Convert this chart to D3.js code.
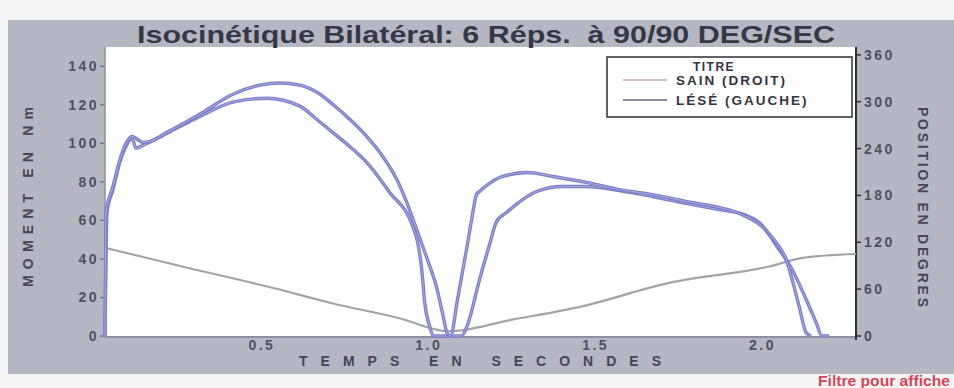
<!DOCTYPE html>
<html>
<head>
<meta charset="utf-8">
<script src="https://cdn.jsdelivr.net/npm/d3@7"></script>
<style>
  html, body { margin: 0; padding: 0; background: #fff; }
  svg { display: block; font-family: "Liberation Sans", Arial, sans-serif; }
</style>
</head>
<body>
<div id="chart"></div>
<script>
// torque curves (Nm) against time (s)
const timeSain = [0.030, 0.036, 0.054, 0.075, 0.096, 0.111, 0.123, 0.150, 0.216, 0.314, 0.413, 0.515, 0.614, 0.664, 0.712, 0.763, 0.814, 0.883, 0.952, 0.967, 0.979, 0.988, 1.003, 1.014,
  1.098, 1.116, 1.152, 1.182, 1.203, 1.233, 1.281, 1.323, 1.400, 1.472, 1.571, 1.670, 1.771, 1.870, 1.945, 1.990, 2.050, 2.089, 2.131, 2.161, 2.178, 2.200];
const torqueSain = [0, 64, 76, 90.6, 99.5, 102.6, 97.5, 99.5, 105.2, 114, 121.4, 123.4, 119.3, 112.5, 105.7, 98.4, 90.1, 74.5, 56.8, 48.4, 34.4, 17.2, 4.7, 0,
  0, 5.7, 29.2, 47.4, 59.4, 64.1, 70.8, 75, 77.6, 77.6, 75.5, 72.4, 68.8, 65.6, 63, 58.9, 44.8, 34.4, 18.8, 6.8, 0, 0];

const timeLese = [0.030, 0.033, 0.054, 0.075, 0.096, 0.111, 0.144, 0.165, 0.216, 0.314, 0.413, 0.494, 0.554, 0.614, 0.664, 0.712, 0.763, 0.814, 0.862, 0.904, 0.934, 0.964, 0.993, 1.023, 1.041, 1.056,
  1.065, 1.086, 1.113, 1.131, 1.143, 1.152, 1.182, 1.221, 1.296, 1.371, 1.472, 1.571, 1.670, 1.771, 1.870, 1.939, 1.999, 2.041, 2.071, 2.089, 2.110, 2.131, 2.146];
const torqueLese = [0, 64, 77.6, 91.7, 101, 103.6, 100.5, 101, 105.7, 115.1, 125.5, 130.2, 131.3, 130.2, 126.6, 120.3, 112.5, 103.6, 93.2, 81.3, 69.3, 55.2, 41.1, 25.5, 12, 1,
  0, 18.8, 44.8, 63, 73.4, 75, 79.2, 82.8, 84.9, 82.8, 79.7, 76, 73.4, 69.8, 66.7, 63, 56.8, 48.4, 39.6, 29.2, 15.1, 1.6, 0];

// joint position (degrees)
const positionTime = [0.03, 0.28, 0.52, 0.71, 0.91, 1.06, 1.25, 1.45, 1.72, 2.02, 2.12, 2.28];
const positionDeg = [113, 87, 63, 42, 23, 6, 21, 37, 68, 89, 100, 105];

const xTicks = [0.5, 1.0, 1.5, 2.0];
const xTickLabels = ['0.5', '1.0', '1.5', '2.0'];
const leftTicks = [0, 20, 40, 60, 80, 100, 120, 140];
const rightTicks = [0, 60, 120, 180, 240, 300, 360];
const legendLabels = ['SAIN (DROIT)', 'LÉSÉ (GAUCHE)'];

const width = 954;
const height = 388;
const plot = { left: 105, right: 856, top: 47, bottom: 337 };

const svg = d3.select('#chart').append('svg')
  .attr('width', width)
  .attr('height', height);

// scanned page background
svg.append('rect').attr('width', width).attr('height', height).attr('fill', '#f4f4f6');
svg.append('rect')
  .attr('x', 8).attr('y', 20).attr('width', width - 8).attr('height', 354)
  .attr('fill', '#b5b8c3');

const x = d3.scaleLinear().domain([0.03, 2.28]).range([plot.left, plot.right]);
const yLeft = d3.scaleLinear().domain([0, 150]).range([plot.bottom - 1, plot.top]);
const yRight = d3.scaleLinear().domain([0, 370]).range([plot.bottom - 1, plot.top]);

svg.append('rect')
  .attr('x', plot.left).attr('y', plot.top)
  .attr('width', plot.right - plot.left).attr('height', plot.bottom - plot.top)
  .attr('fill', '#ffffff');

// title
svg.append('text')
  .attr('x', 486).attr('y', 43)
  .attr('text-anchor', 'middle')
  .attr('textLength', 698).attr('lengthAdjust', 'spacingAndGlyphs')
  .style('font-size', '24px').style('font-weight', 'bold')
  .style('white-space', 'pre')
  .attr('fill', '#363945')
  .text('Isocinétique Bilatéral: 6 Réps.  à 90/90 DEG/SEC');

const tickFont = g => g.style('font-size', '14px').style('font-weight', 'bold')
  .style('letter-spacing', '2.5px').attr('fill', '#4e515d');

// left axis
const gl = svg.append('g');
gl.selectAll('line').data(leftTicks).join('line')
  .attr('x1', plot.left - 5).attr('x2', plot.left)
  .attr('y1', d => yLeft(d)).attr('y2', d => yLeft(d))
  .attr('stroke', '#6a6d78').attr('stroke-width', 1.2);
gl.selectAll('text').data(leftTicks).join('text')
  .attr('x', plot.left - 6).attr('y', d => yLeft(d) + 5)
  .attr('text-anchor', 'end')
  .call(tickFont)
  .text(d => d);

// right axis
const gr = svg.append('g');
gr.selectAll('line').data(rightTicks).join('line')
  .attr('x1', plot.right).attr('x2', plot.right + 5)
  .attr('y1', d => yRight(d)).attr('y2', d => yRight(d))
  .attr('stroke', '#2c2d35').attr('stroke-width', 1.5);
gr.selectAll('text').data(rightTicks).join('text')
  .attr('x', plot.right + 8).attr('y', d => yRight(d) + 5)
  .call(tickFont)
  .text(d => d);

// bottom axis labels
svg.append('g').selectAll('text').data(xTicks).join('text')
  .attr('x', d => x(d)).attr('y', 350)
  .attr('text-anchor', 'middle')
  .call(tickFont)
  .text((d, i) => xTickLabels[i]);

// frame lines
svg.append('line')
  .attr('x1', plot.left).attr('x2', plot.left).attr('y1', plot.top).attr('y2', plot.bottom)
  .attr('stroke', '#8d909a').attr('stroke-width', 1.5);
svg.append('line')
  .attr('x1', plot.left).attr('x2', plot.right).attr('y1', plot.bottom).attr('y2', plot.bottom)
  .attr('stroke', '#8d909a').attr('stroke-width', 2);
svg.append('line')
  .attr('x1', plot.right).attr('x2', plot.right).attr('y1', plot.top).attr('y2', plot.bottom + 3)
  .attr('stroke', '#2c2d35').attr('stroke-width', 2);

// axis titles
svg.append('text')
  .attr('transform', 'translate(480,366)')
  .attr('text-anchor', 'middle')
  .attr('textLength', 362).attr('lengthAdjust', 'spacing')
  .style('font-size', '14px').style('font-weight', 'bold')
  .attr('fill', '#444752')
  .text('TEMPS EN SECONDES');

svg.append('text')
  .attr('transform', 'translate(33,197) rotate(-90)')
  .attr('text-anchor', 'middle')
  .attr('textLength', 180).attr('lengthAdjust', 'spacing')
  .style('font-size', '14px').style('font-weight', 'bold')
  .attr('fill', '#444752')
  .text('MOMENT EN Nm');

svg.append('text')
  .attr('transform', 'translate(918,207) rotate(90)')
  .attr('text-anchor', 'middle')
  .attr('textLength', 200).attr('lengthAdjust', 'spacing')
  .style('font-size', '14px').style('font-weight', 'bold')
  .attr('fill', '#444752')
  .text('POSITION EN DEGRES');

// position trace
const posLine = d3.line()
  .x((d, i) => x(positionTime[i]))
  .y(d => yRight(d))
  .curve(d3.curveMonotoneX);
svg.append('path')
  .datum(positionDeg)
  .attr('fill', 'none')
  .attr('stroke', '#a2a4aa')
  .attr('stroke-width', 2.2)
  .attr('d', posLine);

// torque traces
const torqueLine = times => d3.line()
  .x((d, i) => x(times[i]))
  .y(d => yLeft(d))
  .curve(d3.curveMonotoneX);

[[timeSain, torqueSain], [timeLese, torqueLese]].forEach(([t, v]) => {
  svg.append('path')
    .datum(v)
    .attr('fill', 'none')
    .attr('stroke', '#7a7ec8')
    .attr('stroke-width', 3.4)
    .attr('stroke-linejoin', 'round')
    .attr('d', torqueLine(t));
  svg.append('path')
    .datum(v)
    .attr('fill', 'none')
    .attr('stroke', '#ffffff')
    .attr('stroke-opacity', 0.45)
    .attr('stroke-width', 0.8)
    .attr('d', torqueLine(t));
});

// legend
const lg = svg.append('g');
lg.append('rect')
  .attr('x', 607).attr('y', 57).attr('width', 245).attr('height', 60)
  .attr('fill', '#ffffff')
  .attr('stroke', '#2f3038').attr('stroke-width', 1.5);
lg.append('text')
  .attr('x', 714).attr('y', 71)
  .attr('text-anchor', 'middle')
  .style('font-size', '12px').style('font-weight', 'bold').style('letter-spacing', '1.5px')
  .attr('fill', '#33343c')
  .text('TITRE');
const legendColors = ['#c6a8b2', '#6f6582'];
legendLabels.forEach((label, i) => {
  const yy = 80 + i * 20;
  lg.append('line')
    .attr('x1', 623).attr('x2', 667).attr('y1', yy).attr('y2', yy)
    .attr('stroke', legendColors[i]).attr('stroke-width', 1.6);
  lg.append('text')
    .attr('x', 676).attr('y', yy + 5)
    .style('font-size', '13.5px').style('font-weight', 'bold').style('letter-spacing', '2px')
    .attr('fill', '#33343c')
    .text(label);
});

// cut-off note at bottom right of the scan
svg.append('text')
  .attr('x', 818).attr('y', 386)
  .attr('textLength', 132).attr('lengthAdjust', 'spacingAndGlyphs')
  .style('font-size', '14px').style('font-weight', 'bold')
  .attr('fill', '#d0485a')
  .text('Filtre pour affiche');
</script>
</body>
</html>
